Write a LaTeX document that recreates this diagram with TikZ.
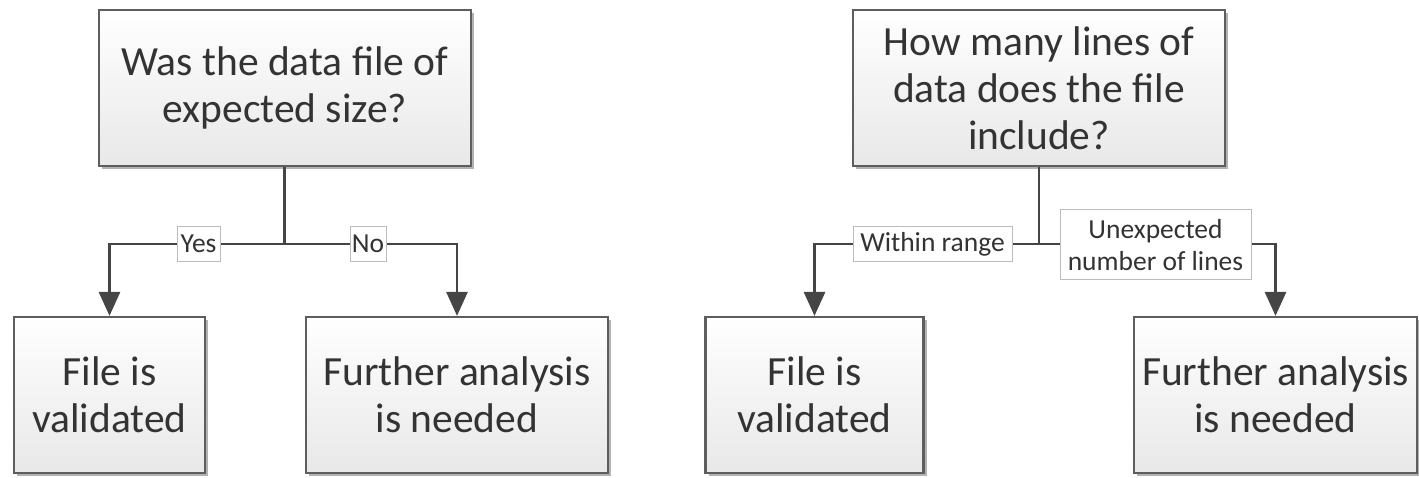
\documentclass[tikz,border=0pt]{standalone}
\usepackage{fontspec}
\setmainfont{Carlito}
\usetikzlibrary{arrows.meta,shadows}
\definecolor{edgec}{HTML}{454545}
\definecolor{boxc}{HTML}{5E5E5E}
\definecolor{txtc}{HTML}{333333}
\definecolor{lblc}{HTML}{BDBDBD}
\tikzset{
  box/.style={draw=boxc, line width=2.2pt, top color=white, bottom color=black!9,
    drop shadow={shadow xshift=3pt, shadow yshift=-3pt, fill=black, opacity=0.3},
    text=txtc, align=center, inner sep=0pt,
    font=\fontsize{41.5}{47}\selectfont},
  lbl/.style={draw=lblc, line width=1pt, fill=white, text=txtc, align=center,
    inner sep=1.5pt, font=\fontsize{27.5}{32}\selectfont},
  conn/.style={draw=edgec, line width=2.8pt},
  arr/.style={conn, -{Triangle[width=21pt,length=24pt]}}
}
\begin{document}
\begin{tikzpicture}[x=1pt,y=-1pt]
\useasboundingbox (0,0) rectangle (1419,478);
% left diagram
\node[box, minimum width=372pt, minimum height=156pt] (t1) at (284.8,88) {Was the data file of\\expected size?};
\node[box, minimum width=191pt, minimum height=156pt] (b1) at (109.5,395) {File is\\validated};
\node[box, minimum width=302pt, minimum height=156pt] (b2) at (457,395) {Further analysis\\is needed};
\coordinate (j1) at (284.8,244);
\draw[conn] (t1.south) -- (j1);
\draw[arr] (j1) -| (b1.north);
\draw[arr] (j1) -| (b2.north);
\node[lbl, minimum width=43pt, minimum height=35pt] (yes) at (198.5,244) {Yes};
\node[lbl, minimum width=36pt, minimum height=35pt] (no) at (368,244) {No};
% right diagram
\node[box, minimum width=372pt, minimum height=156pt] (t2) at (1039,88) {How many lines of\\data does the file\\include?};
\node[box, minimum width=218pt, minimum height=156pt] (b3) at (814.5,395) {File is\\validated};
\node[box, minimum width=283pt, minimum height=156pt] (b4) at (1275.5,395) {Further analysis\\is needed};
\coordinate (j2) at (1039,244);
\draw[conn] (t2.south) -- (j2);
\draw[arr] (j2) -| (b3.north);
\draw[arr] (j2) -| (b4.north);
\node[lbl, minimum width=159pt, minimum height=35pt] (win) at (932.5,244.5) {Within range};
\node[lbl, minimum width=191pt, minimum height=70pt] (unx) at (1155.5,245) {Unexpected\\number of lines};
\end{tikzpicture}
\end{document}
